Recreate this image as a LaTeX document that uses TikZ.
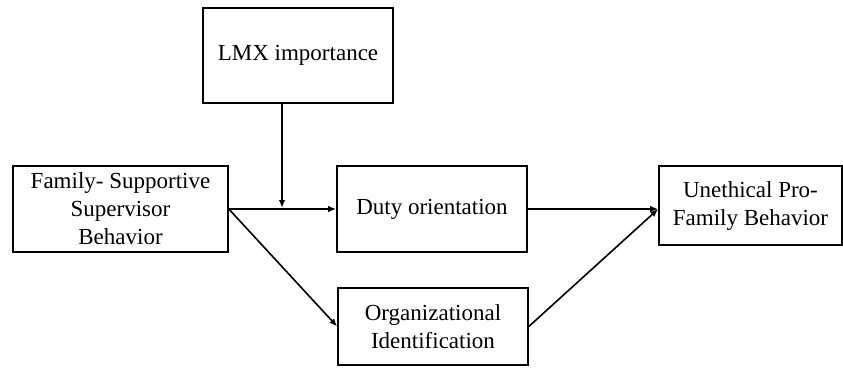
\documentclass[tikz,border=0pt]{standalone}
\usepackage{fontspec}
\setmainfont{Liberation Serif}
\newfontfamily\boxfont{Liberation Serif}
\usetikzlibrary{arrows.meta}
\begin{document}
\begin{tikzpicture}[x=1pt,y=-1pt,
  box/.style={draw,line width=1.6pt,rectangle,align=center,inner sep=0pt,
    font=\boxfont\fontsize{23}{28}\selectfont},
  conn/.style={line width=1.6pt,-{Latex[length=8pt,width=6.5pt]}}]
\useasboundingbox (0,0) rectangle (843,367);
\node[box,minimum width=190pt,minimum height=95pt] (lmx) at (298,55.5) {LMX importance};
\node[box,minimum width=215pt,minimum height=86pt] (fam) at (120.5,209) {Family- Supportive\\Supervisor\\Behavior};
\node[box,minimum width=190pt,minimum height=86pt] (duty) at (432,209) {Duty orientation};
\node[box,minimum width=190pt,minimum height=77pt] (org) at (433,326.5) {Organizational\\Identification};
\node[box,minimum width=183pt,minimum height=79pt] (une) at (750.5,205.5) {Unethical Pro-\\Family Behavior};
\coordinate (mod) at (282,208);
\coordinate (meet) at (une.west |- duty.east);
\draw[conn] (fam.east) -- (duty.west);
\draw[conn] (lmx.south -| mod) -- (mod);
\draw[conn] (fam.east) -- (org.west);
\draw[conn] (duty.east) -- (meet);
\draw[conn] (org.east) -- (meet);
\end{tikzpicture}
\end{document}
